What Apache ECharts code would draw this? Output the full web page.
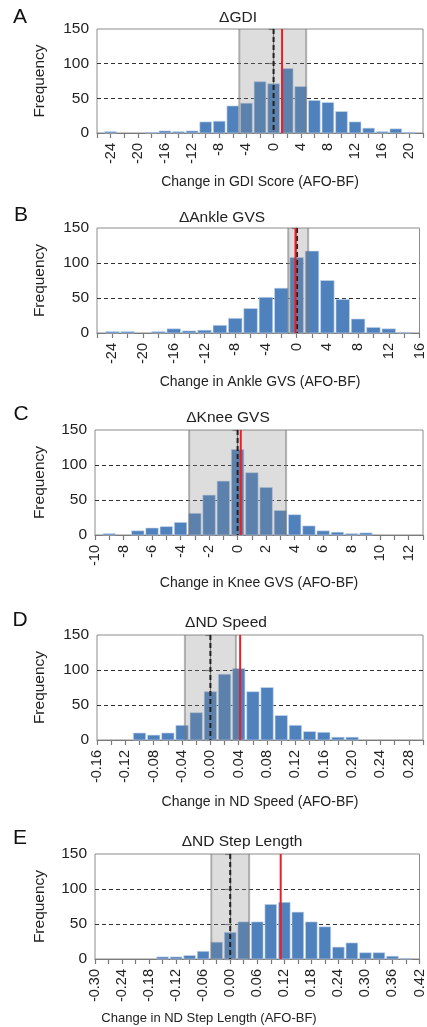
<!DOCTYPE html>
<html><head><meta charset="utf-8">
<script src="https://cdn.jsdelivr.net/npm/echarts@6/dist/echarts.min.js"></script>
<style>html,body{margin:0;padding:0;background:#fff}#c{width:427px;height:1027px}</style>
</head><body><div id="c"></div>
<script>
// ---------- data ----------
const binsA   = [-24,-22,-20,-18,-16,-14,-12,-10,-8,-6,-4,-2,0,2,4,6,8,10,12,14,16,18,20];
const countsA = [2,0,0,1,3,2,3,16,17,39,43,74,71,93,67,47,44,31,16,7,2,6,1];
const labelsA = ['-24','-20','-16','-12','-8','-4','0','4','8','12','16','20'];
const bandA = [-5.05, 4.8];
const zeroA = 0, meanA = 1.25;

const binsB   = [-24,-22,-20,-18,-16,-14,-12,-10,-8,-6,-4,-2,0,2,4,6,8,10,12,14];
const countsB = [2,2,0,2,6,3,4,11,21,35,51,64,108,117,75,48,20,8,6,1];
const labelsB = ['-24','-20','-16','-12','-8','-4','0','4','8','12','16'];
const bandB = [-1.1, 1.5];
const zeroB = 0.05, meanB = -0.15;

const binsC   = [-9,-8,-7,-6,-5,-4,-3,-2,-1,0,1,2,3,4,5,6,7,8,9];
const countsC = [2,0,6,10,12,18,31,57,77,122,89,68,35,29,13,6,4,2,3];
const labelsC = ['-10','-8','-6','-4','-2','0','2','4','6','8','10','12'];
const bandC = [-3.4, 3.4];
const zeroC = 0, meanC = 0.22;

const binsD   = [-0.10,-0.08,-0.06,-0.04,-0.02,0.00,0.02,0.04,0.06,0.08,0.10,0.12,0.14,0.16,0.18,0.20];
const countsD = [10,7,10,21,39,69,94,102,69,75,35,21,12,11,4,4];
const labelsD = ['-0.16','-0.12','-0.08','-0.04','0.00','0.04','0.08','0.12','0.16','0.20','0.24','0.28'];
const bandD = [-0.036, 0.036];
const zeroD = 0, meanD = 0.042;

const binsE   = [-0.15,-0.12,-0.09,-0.06,-0.03,0.00,0.03,0.06,0.09,0.12,0.15,0.18,0.21,0.24,0.27,0.30,0.33,0.36,0.39];
const countsE = [3,3,5,11,24,38,53,53,78,81,67,53,46,17,23,9,9,4,1];
const labelsE = ['-0.30','-0.24','-0.18','-0.12','-0.06','0.00','0.06','0.12','0.18','0.24','0.30','0.36','0.42'];
const bandE = [-0.042, 0.042];
const zeroE = 0, meanE = 0.112;

const yTicks = [0, 50, 100, 150];

const letters = ['A','B','C','D','E'];
const titles = ['\u0394GDI','\u0394Ankle GVS','\u0394Knee GVS','\u0394ND Speed','\u0394ND Step Length'];
const xNames = ['Change in GDI Score (AFO-BF)','Change in Ankle GVS (AFO-BF)','Change in Knee GVS (AFO-BF)',
                'Change in ND Speed (AFO-BF)','Change in ND Step Length (AFO-BF)'];

// ---------- layout ----------
const FONT = '"Liberation Sans", Arial, sans-serif';
const panels = [
  {bins:binsA, counts:countsA, labels:labelsA, band:bandA, zero:zeroA, mean:meanA, min:-26, max:22, step:2,
   grid:{left:97, top:29, height:104}, letter:[20,17], title:[238,18], xname:[260,182], xfs:14},
  {bins:binsB, counts:countsB, labels:labelsB, band:bandB, zero:zeroB, mean:meanB, min:-26, max:16, step:2,
   grid:{left:97, top:228, height:105}, letter:[21,215], title:[222,218], xname:[260,382], xfs:14},
  {bins:binsC, counts:countsC, labels:labelsC, band:bandC, zero:zeroC, mean:meanC, min:-10, max:13, step:1,
   grid:{left:95, top:430, height:105}, letter:[21,414], title:[228,418], xname:[259,583], xfs:14},
  {bins:binsD, counts:countsD, labels:labelsD, band:bandD, zero:zeroD, mean:meanD, min:-0.16, max:0.30, step:0.02,
   grid:{left:97, top:635, height:105}, letter:[20,620], title:[226,623], xname:[260,802], xfs:14},
  {bins:binsE, counts:countsE, labels:labelsE, band:bandE, zero:zeroE, mean:meanE, min:-0.30, max:0.42, step:0.03,
   grid:{left:95, top:854, height:105}, letter:[20,838], title:[242,842], xname:[209,1018], xfs:13}
];

const grids = [], xAxes = [], yAxes = [], series = [], graphics = [];

panels.forEach((p, i) => {
  grids.push({left:p.grid.left, right:4, top:p.grid.top, height:p.grid.height,
    show:true, borderColor:'#8c8c8c', borderWidth:1, backgroundColor:'transparent'});
  xAxes.push({type:'value', gridIndex:i, min:p.min, max:p.max, interval:p.step,
    axisLine:{show:true, onZero:false, lineStyle:{color:'#7a7a7a', width:1.2}},
    axisTick:{show:true, length:5, lineStyle:{color:'#7a7a7a', width:1.2}},
    splitLine:{show:false},
    axisLabel:{rotate:90, margin:10, fontSize:14.5, color:'#222', fontFamily:FONT,
      showMinLabel:true, showMaxLabel:true,
      formatter:(v) => { const s = p.labels.find(t => Math.abs(parseFloat(t) - v) < 1e-9); return s === undefined ? '' : s; }}
  });
  yAxes.push({type:'value', gridIndex:i, min:yTicks[0], max:yTicks[yTicks.length-1], interval:yTicks[1]-yTicks[0],
    axisLine:{show:true, lineStyle:{color:'#7a7a7a', width:1.2}},
    axisTick:{show:true, length:5, lineStyle:{color:'#7a7a7a', width:1.2}},
    splitLine:{show:true, showMinLine:false, showMaxLine:false, lineStyle:{color:'#333', width:1, type:[4,3]}},
    axisLabel:{fontSize:15.5, color:'#222', margin:8, fontFamily:FONT}
  });
  const binW = p.bins[1] - p.bins[0];
  series.push({type:'custom', xAxisIndex:i, yAxisIndex:i, z:2,
    data:p.bins.map((b, k) => [b, p.counts[k]]),
    renderItem:(params, api) => {
      const x = api.value(0), y = api.value(1);
      if (!y) return null;
      const a = api.coord([x - binW/2, y]), b = api.coord([x + binW/2, 0]);
      const g = 0.9;
      return {type:'rect', shape:{x:a[0]+g, y:a[1], width:b[0]-a[0]-2*g, height:b[1]-a[1]},
        style:{fill:'#4f81bd', stroke:'#c9d8ec', lineWidth:0.6}};
    }
  });
  series.push({type:'custom', xAxisIndex:i, yAxisIndex:i, z:3,
    encode:{x:[0,1]}, data:[[p.band[0], p.band[1]]],
    renderItem:(params, api) => {
      const cs = params.coordSys;
      const x0 = api.coord([api.value(0), 0])[0], x1 = api.coord([api.value(1), 0])[0];
      const ln = {stroke:'rgba(120,120,120,0.55)', lineWidth:2};
      return {type:'group', children:[
        {type:'rect', shape:{x:x0, y:cs.y, width:x1-x0, height:cs.height}, style:{fill:'rgba(128,128,128,0.27)'}},
        {type:'line', shape:{x1:x0, y1:cs.y, x2:x0, y2:cs.y+cs.height}, style:ln},
        {type:'line', shape:{x1:x1, y1:cs.y, x2:x1, y2:cs.y+cs.height}, style:ln}
      ]};
    }
  });
  series.push({type:'custom', xAxisIndex:i, yAxisIndex:i, z:4,
    data:[[p.zero, 0], [p.mean, 1]],
    renderItem:(params, api) => {
      const cs = params.coordSys;
      const x = api.coord([api.value(0), 0])[0];
      const red = api.value(1) === 1;
      return {type:'line', shape:{x1:x, y1:cs.y, x2:x, y2:cs.y+cs.height},
        style: red ? {stroke:'#ee1c24', lineWidth:2} : {stroke:'#222', lineWidth:2, lineDash:[5,3]}};
    }
  });
  const cy = p.grid.top + p.grid.height/2;
  graphics.push({type:'text', x:p.letter[0], y:p.letter[1], style:{text:letters[i], fontSize:21, fill:'#111', fontFamily:FONT, align:'center', verticalAlign:'middle'}});
  graphics.push({type:'text', x:p.title[0], y:p.title[1], style:{text:titles[i], fontSize:15.5, fill:'#222', fontFamily:FONT, align:'center', verticalAlign:'middle'}});
  graphics.push({type:'text', x:p.xname[0], y:p.xname[1], style:{text:xNames[i], fontSize:p.xfs, fill:'#222', fontFamily:FONT, align:'center', verticalAlign:'middle'}});
  graphics.push({type:'text', x:40, y:cy, rotation:Math.PI/2, style:{text:'Frequency', fontSize:15.5, fill:'#222', fontFamily:FONT, align:'center', verticalAlign:'middle'}});
});

const chart = echarts.init(document.getElementById('c'), null, {renderer:'canvas'});
chart.setOption({animation:false, backgroundColor:'#fff', grid:grids, xAxis:xAxes, yAxis:yAxes, series:series, graphic:graphics});
</script></body></html>
